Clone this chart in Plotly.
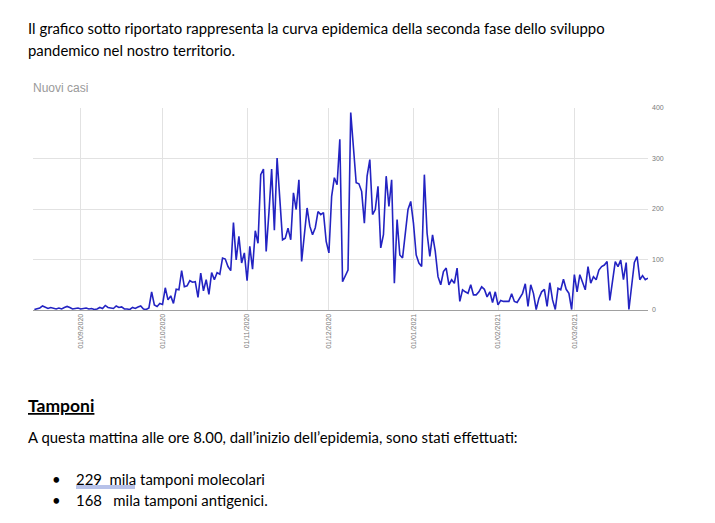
import pandas as pd
import plotly.graph_objects as go

# nuovi casi giornalieri, dal 15/08/2020 al 28/03/2021
data_inizio = "2020-08-15"
nuovi_casi = [
    1, 2, 4, 8, 6, 3, 5, 4, 2, 4, 2, 5, 7, 5, 2, 3, 4, 2, 3, 4,
    2, 3, 1, 2, 5, 3, 9, 5, 4, 3, 8, 5, 6, 2, 2, 1, 5, 3, 6, 8,
    2, 1, 4,
    36, 10, 7, 13, 11, 44, 20, 28, 13, 41, 40, 78, 46, 48, 58, 55, 56, 25, 73, 38,
    60, 31, 74, 60, 74, 71, 103, 101, 86, 78, 173, 99, 146, 93, 113,
    58, 126, 81, 157, 132, 268, 279, 116, 192, 279, 158, 301, 220, 139, 142, 162,
    139, 232, 199, 258, 96, 152, 202, 166, 149, 163, 195, 189, 193, 136,
    113, 225, 262, 248, 338, 56, 66, 79,
    391, 325, 252, 250, 235, 172, 265, 298, 189, 199, 245, 123, 149, 265, 205, 258,
    53, 179, 109, 103, 152, 199, 215,
    172, 109, 93, 86, 268, 152, 106, 149, 116, 66, 50, 76, 83, 50, 60, 53, 83, 17,
    40, 36, 33, 50, 30, 30, 36, 46, 41, 26, 36, 15, 36,
    10, 19, 17, 17, 17, 32, 17, 15, 23, 33, 52, 7, 50, 33, 1, 23, 36, 41, 7, 54,
    20, 1, 43, 40, 61, 41, 33, 1, 70,
    36, 70, 56, 40, 86, 53, 66, 60, 79, 86, 89, 96, 19, 60, 96, 86, 99, 60, 94, 1,
    46, 94, 106, 60, 68, 60, 63,
]
date = pd.date_range(data_inizio, periods=len(nuovi_casi), freq="D")

tick_date = ["2020-09-01", "2020-10-01", "2020-11-01", "2020-12-01",
             "2021-01-01", "2021-02-01", "2021-03-01"]
tick_etichette = ["01/09/2020", "01/10/2020", "01/11/2020", "01/12/2020",
                  "01/01/2021", "01/02/2021", "01/03/2021"]
y_tick = [0, 100, 200, 300, 400]

# la pagina html ha 8px di margine: la figura parte da (8, 8)
OFF = 8
FIG_W, FIG_H = 715 - OFF, 523 - OFF
# area del grafico in pixel della pagina
L, R, T, B = 33, 648, 108, 310
W, H = R - L, B - T


def px(x):
    return (x - L) / W


def py(y):
    return (B - y) / H


fig = go.Figure()
fig.add_trace(go.Scatter(x=date, y=nuovi_casi, mode="lines",
                         line=dict(color="#2323c2", width=1.6),
                         hoverinfo="skip"))

doc_font = dict(family="Lato, Carlito, sans-serif", size=14.9, color="#000000")
testi = [
    (26, 28, "Il grafico sotto riportato rappresenta la curva epidemica della seconda fase dello sviluppo", doc_font),
    (26, 50, "pandemico nel nostro territorio.", doc_font),
    (26, 405, "<b><u>Tamponi</u></b>", dict(doc_font, size=17.5)),
    (26, 437, "A questa mattina alle ore 8.00, dall\u2019inizio dell\u2019epidemia, sono stati effettuati:", doc_font),
    (50, 479, "\u2022", doc_font),
    (50, 500, "\u2022", doc_font),
    (74, 479, "229\u00a0 mila tamponi molecolari", doc_font),
    (74, 500, "168\u00a0\u00a0 mila tamponi antigenici.", doc_font),
    (31, 88, "Nuovi casi", dict(family="Liberation Sans, Arial", size=12, color="#9a9a9a")),
]
annotations = [
    dict(x=px(x), y=py(y), xref="paper", yref="paper", text=t, showarrow=False,
         xanchor="left", yanchor="middle", font=f)
    for x, y, t, f in testi
]

# doppia sottolineatura blu (correttore ortografico)
shapes = [
    dict(type="line", xref="paper", yref="paper", x0=px(76), x1=px(135),
         y0=py(yy), y1=py(yy), line=dict(color="#3050c0", width=0.7))
    for yy in (486, 488)
]

fig.update_layout(
    width=FIG_W, height=FIG_H,
    margin=dict(l=L - OFF, r=715 - R, t=T - OFF, b=523 - B),
    paper_bgcolor="white", plot_bgcolor="white",
    showlegend=False,
    annotations=annotations,
    shapes=shapes,
    xaxis=dict(
        range=[pd.Timestamp(data_inizio) - pd.Timedelta(hours=12),
               pd.Timestamp("2021-03-28")],
        tickvals=tick_date, ticktext=tick_etichette, tickangle=-90,
        tickfont=dict(family="Liberation Sans, Arial", size=7, color="#7a7a7a"),
        showgrid=True, gridcolor="#e2e2e2", gridwidth=1,
        showline=True, linecolor="#a0a0a0", linewidth=1,
        zeroline=False, ticks="",
    ),
    yaxis=dict(
        range=[0, 400], side="right", tickvals=y_tick,
        tickfont=dict(family="Liberation Sans, Arial", size=7, color="#7a7a7a"),
        showgrid=True, gridcolor="#e2e2e2", gridwidth=1,
        zeroline=False, showline=False, ticks="",
        ticklabelstandoff=3,
    ),
)

fig.write_html("out.html")
